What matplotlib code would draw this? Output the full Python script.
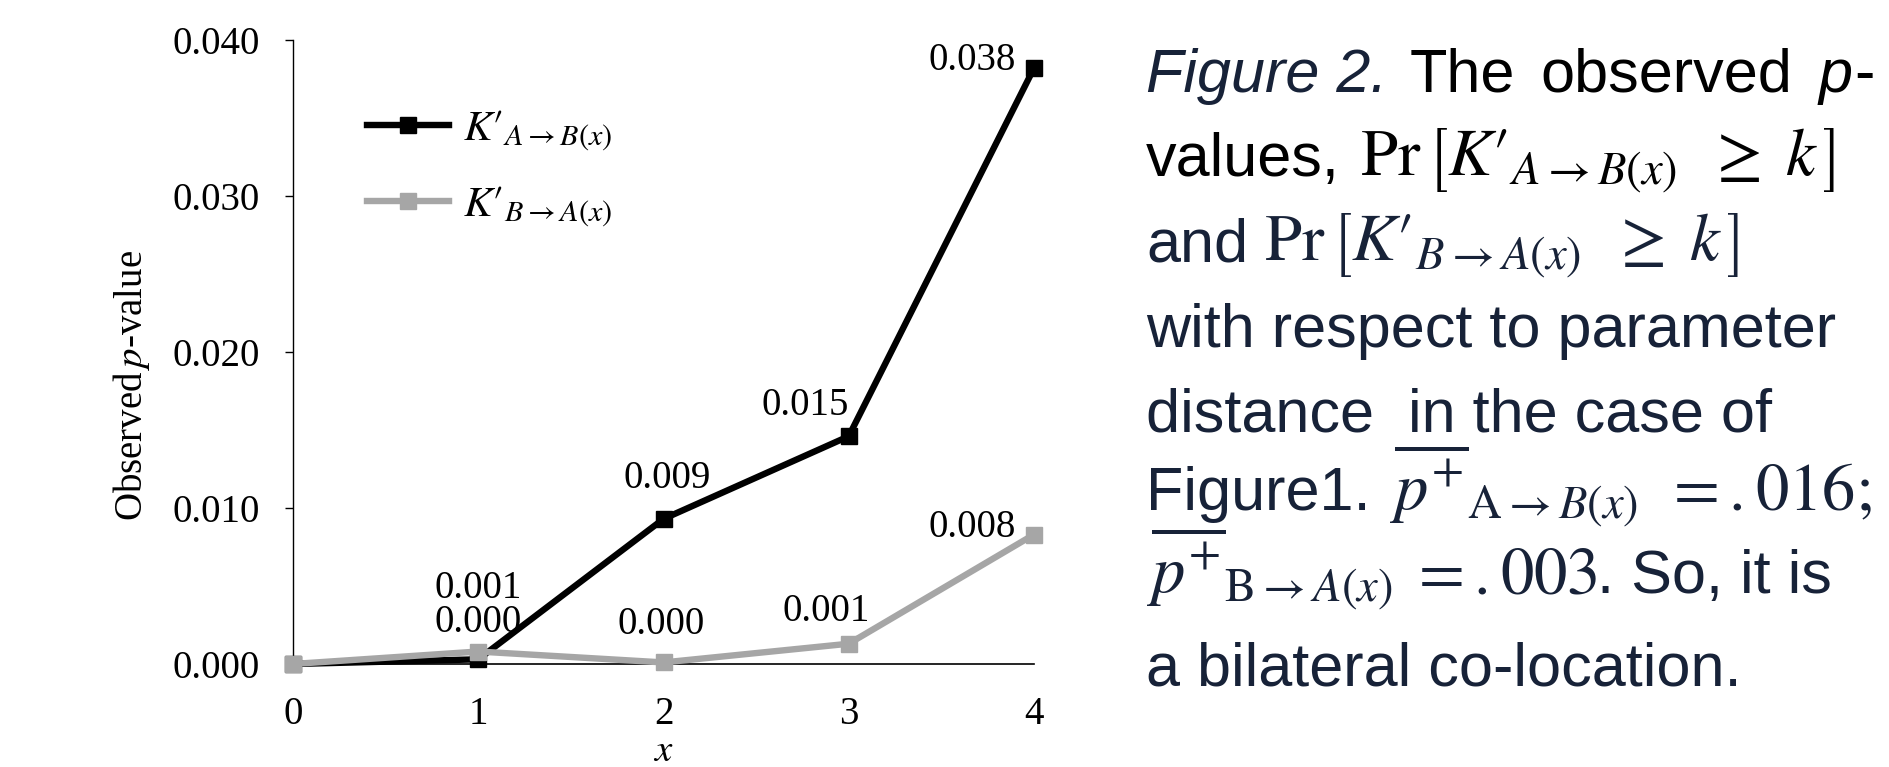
import matplotlib
matplotlib.use("Agg")
import matplotlib.pyplot as plt

# ---- data ----
x_vals = [0, 1, 2, 3, 4]
p_ab = [0.0000, 0.0003, 0.0093, 0.0146, 0.0382]
p_ba = [0.0000, 0.0008, 0.0001, 0.0013, 0.0083]
lab_ab = ["", "0.000", "0.009", "0.015", "0.038"]
lab_ba = ["", "0.001", "0.000", "0.001", "0.008"]
y_ticks = [0.000, 0.010, 0.020, 0.030, 0.040]
y_ticklabels = ["0.000", "0.010", "0.020", "0.030", "0.040"]
x_ticklabels = ["0", "1", "2", "3", "4"]
legend_ab = r"$K\prime_{A\rightarrow B(x)}$"
legend_ba = r"$K\prime_{B\rightarrow A(x)}$"

plt.rcParams['font.family'] = ['Liberation Serif', 'DejaVu Serif']
plt.rcParams['mathtext.fontset'] = 'stix'

W, H = 1889, 767
fig = plt.figure(figsize=(W / 100, H / 100), dpi=100)
ax = fig.add_axes([293 / W, 1 - 664 / H, (1034 - 293) / W, (664 - 40) / H])

BLACK = '#000000'
GRAY = '#a6a6a6'
NAVY = '#172238'

ax.plot(x_vals, p_ab, color=BLACK, lw=4.6, marker='s', ms=12, clip_on=False,
        zorder=3, label=legend_ab, solid_joinstyle='miter')
ax.plot(x_vals, p_ba, color=GRAY, lw=4.6, marker='s', ms=12, clip_on=False,
        zorder=4, label=legend_ba, solid_joinstyle='miter')

ax.set_xlim(0, 4)
ax.set_ylim(0, 0.040)
ax.set_yticks(y_ticks)
ax.set_yticklabels(y_ticklabels)
ax.set_xticks(x_vals)
ax.set_xticklabels(x_ticklabels)
ax.tick_params(axis='y', direction='out', length=6, width=1.0, pad=18, labelsize=28)
ax.tick_params(axis='x', length=0, pad=23, labelsize=28)
for s in ['top', 'right']:
    ax.spines[s].set_visible(False)
ax.spines['left'].set_linewidth(1.0)
ax.spines['bottom'].set_linewidth(1.2)

ax.set_ylabel(r"Observed$\,p$-value", fontsize=28)
ax.yaxis.set_label_coords(-0.19, 0.447)
ax.set_xlabel(r"$x$", fontsize=28)
ax.xaxis.set_label_coords(0.5, -0.11)

# data labels (offsets in points)
off_ab = [None, (0, 26.6), (2.9, 28.8), (-31.7, 22.3), (-13, 5.8)]
off_ba = [None, (0, 45.4), (-1.4, 27.4), (-16.6, 23.0), (-13, 4.7)]
for xs, ys, labs, offs in [(x_vals, p_ab, lab_ab, off_ab), (x_vals, p_ba, lab_ba, off_ba)]:
    for xv, yv, lb, off in zip(xs, ys, labs, offs):
        if not lb:
            continue
        ha = 'right' if xv == 4 else 'center'
        ax.annotate(lb, xy=(xv, yv), xytext=off, textcoords='offset points',
                    ha=ha, va='center', fontsize=28, annotation_clip=False, zorder=5)

leg = ax.legend(loc='upper left', bbox_to_anchor=(367 / W, 1 - 108 / H),
                bbox_transform=fig.transFigure, frameon=False, fontsize=31,
                handlelength=1.9, handletextpad=0.33, labelspacing=0.72,
                borderpad=0, borderaxespad=0)

# ---- caption text on the right ----
FS = 44
MFS = 48
sans = ['Liberation Sans', 'DejaVu Sans']
r = fig.canvas.get_renderer()

def chain(parts, x0, yb):
    x = x0
    for txt, size, style, color, gap in parts:
        x += gap
        t = fig.text(x / W, 1 - yb / H, txt, fontsize=size, family=sans, style=style,
                     color=color, va='baseline', ha='left')
        bb = t.get_window_extent(r)
        x = bb.x1

X0 = 1146
chain([("Figure 2.", FS, 'italic', NAVY, 0),
       ("The", FS, 'normal', BLACK, 22),
       ("observed", FS, 'normal', BLACK, 26),
       ("p", FS, 'italic', BLACK, 26),
       ("-", FS, 'normal', BLACK, 2)], X0, 92)

chain([("values,", FS, 'normal', BLACK, 0),
       (r"$\mathrm{Pr}\,\left[K\prime_{A\rightarrow B(x)}\;\;\geq\;k\,\right]$", MFS, 'normal', BLACK, 20)],
      X0, 176)
chain([("and", FS, 'normal', NAVY, 0),
       (r"$\mathrm{Pr}\,\left[K\prime_{B\rightarrow A(x)}\;\;\geq\;k\,\right]$", MFS, 'normal', NAVY, 16)],
      X0, 261)
chain([("with respect to parameter", FS, 'normal', NAVY, 0)], X0, 347)
chain([("distance  in the case of", FS, 'normal', NAVY, 0)], X0, 432)
chain([("Figure1.", FS, 'normal', NAVY, 0),
       (r"$\overline{p^{+}}_{\mathrm{A}\rightarrow B(x)}$", MFS, 'normal', NAVY, 18),
       (r"$=.016;$", MFS, 'normal', NAVY, 26)], X0, 510)
chain([(r"$\overline{p^{+}}_{\mathrm{B}\rightarrow A(x)}$", MFS, 'normal', NAVY, 0),
       (r"$=.003$", MFS, 'normal', NAVY, 16),
       (". So, it is", FS, 'normal', NAVY, 0)], X0, 593)
chain([("a bilateral co-location.", FS, 'normal', NAVY, 0)], X0, 685)

fig.savefig("out.png", dpi=100)
